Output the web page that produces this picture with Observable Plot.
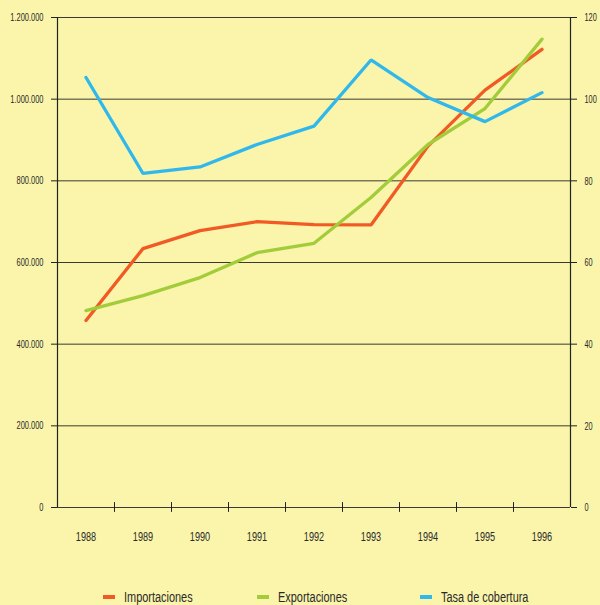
<!DOCTYPE html>
<html>
<head>
<meta charset="utf-8">
<script src="https://cdn.jsdelivr.net/npm/d3@7"></script>
<script src="https://cdn.jsdelivr.net/npm/@observablehq/plot@0.6"></script>
<style>
  html, body { margin: 0; padding: 0; background: #faf5ab; }
  body { width: 600px; height: 605px; overflow: hidden; font-family: "Liberation Sans", Arial, sans-serif; }
  #chart svg { display: block; background: transparent; overflow: visible; }
  #legend { position: relative; width: 600px; height: 30px; font-size: 14px; color: #2a2a2a; }
  .item { position: absolute; top: 14px; display: flex; align-items: center; white-space: nowrap; }
  .sw { width: 12px; height: 4px; margin-right: 9px; }
  .lbl { display: inline-block; transform: scaleX(0.78); transform-origin: left center; }
</style>
</head>
<body>
<div id="chart"></div>
<div id="legend"></div>
<script>
const years = [1988, 1989, 1990, 1991, 1992, 1993, 1994, 1995, 1996];
const importaciones = [458000, 634000, 678000, 700000, 693000, 692000, 885000, 1022000, 1122000];
const exportaciones = [482000, 519000, 563000, 624000, 647000, 759000, 889000, 977000, 1147000];
const tasaCobertura = [105.3, 81.8, 83.4, 88.9, 93.4, 109.6, 100.4, 94.5, 101.6];
const leftTicks = [0, 200000, 400000, 600000, 800000, 1000000, 1200000];
const rightTicks = [0, 20, 40, 60, 80, 100, 120];
const seriesNames = ["Importaciones", "Exportaciones", "Tasa de cobertura"];
const seriesColors = ["#f15a24", "#a3cc3a", "#30b8ec"];

const factor = 1200000 / 120;
const rows = [];
years.forEach((yr, i) => {
  rows.push({year: yr, value: importaciones[i], serie: seriesNames[0]});
  rows.push({year: yr, value: exportaciones[i], serie: seriesNames[1]});
  rows.push({year: yr, value: tasaCobertura[i] * factor, serie: seriesNames[2]});
});
const boundaries = years.slice(0, -1).map(y => y + 0.5);
const fmt = d => d === 0 ? "0" : d3.format(",")(d).replace(/,/g, ".");

const chart = Plot.plot({
  width: 600,
  height: 575,
  marginTop: 17,
  marginBottom: 68,
  marginLeft: 57,
  marginRight: 30,
  style: {background: "transparent", fontFamily: "'Liberation Sans', Arial, sans-serif", fontSize: "11px", color: "#2a2a2a", overflow: "visible"},
  x: {domain: [years[0] - 0.5, years[years.length - 1] + 0.5]},
  y: {domain: [0, 1200000]},
  color: {domain: seriesNames, range: seriesColors},
  marks: [
    Plot.ruleY(leftTicks, {stroke: "#3a3a30", strokeWidth: 1}),
    Plot.ruleX([years[0] - 0.5, years[years.length - 1] + 0.5], {stroke: "#222", strokeWidth: 1.2}),
    Plot.ruleX(boundaries, {y1: -12000, y2: 12000, stroke: "#222", strokeWidth: 1}),
    Plot.axisY(leftTicks, {anchor: "left", tickSize: 6, tickPadding: 8, tickFormat: fmt, label: null, stroke: "#222", fontSize: 11}),
    Plot.axisY(rightTicks.map(d => d * factor), {anchor: "right", tickSize: 6, tickPadding: 8, tickFormat: d => String(Math.round(d / factor)), label: null, stroke: "#222", fontSize: 11.5}),
    Plot.axisX(years, {anchor: "bottom", tickSize: 0, tickPadding: 25, tickFormat: d => String(d), label: null, fontSize: 12.5}),
    Plot.line(rows, {x: "year", y: "value", stroke: "serie", z: "serie", strokeWidth: 3.3, strokeLinejoin: "miter"})
  ]
});
document.getElementById("chart").appendChild(chart);

// condensed look: compress tick labels horizontally
const ratios = {end: 0.68, start: 0.64, middle: 0.73};
chart.querySelectorAll("text").forEach(t => {
  const g = t.closest("[text-anchor]");
  const anchor = (t.getAttribute("text-anchor")) || (g ? g.getAttribute("text-anchor") : "middle") || "middle";
  const r = ratios[anchor] || 0.75;
  const len = t.getComputedTextLength();
  if (len > 0) {
    t.setAttribute("textLength", (len * r).toFixed(2));
    t.setAttribute("lengthAdjust", "spacingAndGlyphs");
  }
});

const legend = document.getElementById("legend");
const lefts = [103, 257, 420];
seriesNames.forEach((name, i) => {
  const it = document.createElement("div");
  it.className = "item";
  it.style.left = lefts[i] + "px";
  it.innerHTML = `<span class="sw" style="background:${seriesColors[i]}"></span><span class="lbl">${name}</span>`;
  legend.appendChild(it);
});
</script>
</body>
</html>
